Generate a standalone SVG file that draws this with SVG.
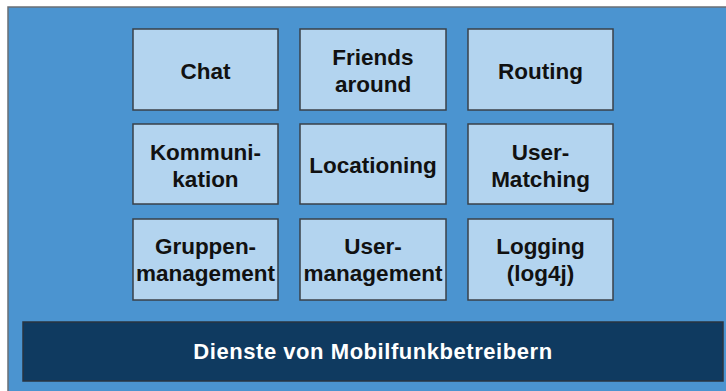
<svg xmlns="http://www.w3.org/2000/svg" width="726" height="391" viewBox="0 0 726 391">
<style>
.box{fill:#b3d4ef;stroke:#3a4048;stroke-width:1.5}
.t{font-family:"Liberation Sans",Arial,sans-serif;font-weight:bold;font-size:22.5px;fill:#111;text-anchor:middle}
.w{font-family:"Liberation Sans",Arial,sans-serif;font-weight:bold;font-size:22px;fill:#fff;text-anchor:middle;letter-spacing:0.55px}
</style>
<rect x="0" y="0" width="726" height="391" fill="#ffffff"/>
<rect id="frame" x="8" y="7" width="730" height="400" fill="#4b94d0" stroke="#6a6f75" stroke-width="1.5"/>
<g id="chat"><rect class="box" x="133" y="29" width="145" height="81"/><text class="t" x="205.5" y="79">Chat</text></g>
<g id="friends"><rect class="box" x="300" y="29" width="146" height="81"/><text class="t" x="373" y="65">Friends</text><text class="t" x="373" y="92">around</text></g>
<g id="routing"><rect class="box" x="468" y="29" width="145" height="81"/><text class="t" x="540.5" y="79">Routing</text></g>
<g id="kommunikation"><rect class="box" x="133" y="124" width="145" height="80"/><text class="t" x="205.5" y="160">Kommuni-</text><text class="t" x="205.5" y="187">kation</text></g>
<g id="locationing"><rect class="box" x="300" y="124" width="146" height="80"/><text class="t" x="373" y="173">Locationing</text></g>
<g id="usermatching"><rect class="box" x="468" y="124" width="145" height="80"/><text class="t" x="540.5" y="160">User-</text><text class="t" x="540.5" y="187">Matching</text></g>
<g id="gruppen"><rect class="box" x="133" y="219" width="145" height="81"/><text class="t" x="205.5" y="254">Gruppen-</text><text class="t" x="205.5" y="281">management</text></g>
<g id="usermgmt"><rect class="box" x="300" y="219" width="146" height="81"/><text class="t" x="373" y="254">User-</text><text class="t" x="373" y="281">management</text></g>
<g id="logging"><rect class="box" x="468" y="219" width="145" height="81"/><text class="t" x="540.5" y="254">Logging</text><text class="t" x="540.5" y="281">(log4j)</text></g>
<g id="dienste"><rect x="23" y="322" width="700" height="59" fill="#0f3a60" stroke="#2a3440" stroke-width="1.5"/><text class="w" x="373" y="359">Dienste von Mobilfunkbetreibern</text></g>
<g id="connectors"></g>
</svg>
